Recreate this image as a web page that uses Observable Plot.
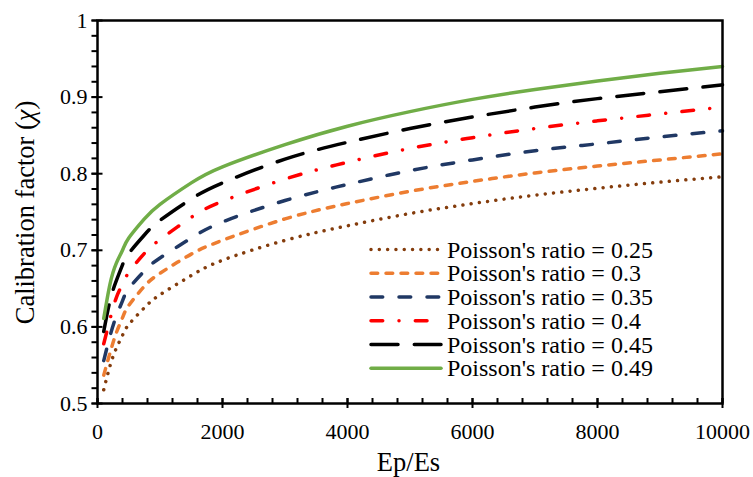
<!DOCTYPE html>
<html><head><meta charset="utf-8">
<script src="https://cdn.jsdelivr.net/npm/d3@7"></script>
<script src="https://cdn.jsdelivr.net/npm/@observablehq/plot@0.6"></script>
<style>body{margin:0;background:#fff}#chart{width:753px;height:477px}</style>
</head><body><div id="chart"></div>
<script>
const seriesNames = ["Poisson's ratio = 0.25","Poisson's ratio = 0.3","Poisson's ratio = 0.35","Poisson's ratio = 0.4","Poisson's ratio = 0.45","Poisson's ratio = 0.49"];
const seriesColors = ["#843C0C","#ED7D31","#203864","#FF0000","#000000","#70AD47"];
const seriesDashes = ["0.01 8.3","6.7 8.3","11.7 16.3","11.7 16.3 0.01 16.3","27 16.3","none"];
const epEs  = [100,200,300,400,500,750,1000,1500,2000,3000,4000,5000,6000,7000,8000,9000,10000];
const chi025 = [0.518,0.549,0.572,0.589,0.603,0.625,0.642,0.667,0.687,0.713,0.732,0.748,0.761,0.772,0.781,0.789,0.796];
const chi030 = [0.537,0.566,0.592,0.612,0.628,0.653,0.670,0.695,0.713,0.741,0.761,0.777,0.790,0.801,0.810,0.818,0.826];
const chi035 = [0.556,0.588,0.614,0.634,0.650,0.673,0.690,0.716,0.737,0.765,0.786,0.804,0.818,0.830,0.839,0.848,0.856];
const chi040 = [0.578,0.610,0.638,0.656,0.671,0.696,0.714,0.743,0.764,0.793,0.815,0.833,0.847,0.859,0.869,0.878,0.887];
const chi045 = [0.594,0.634,0.660,0.681,0.696,0.720,0.739,0.767,0.788,0.819,0.841,0.859,0.874,0.887,0.898,0.907,0.916];
const chi049 = [0.611,0.656,0.683,0.700,0.716,0.741,0.760,0.788,0.809,0.838,0.862,0.881,0.897,0.910,0.921,0.931,0.940];
const seriesValues = [chi025,chi030,chi035,chi040,chi045,chi049];
const xTicks = [0,2000,4000,6000,8000,10000];
const xTickLabels = ["0","2000","4000","6000","8000","10000"];
const yTicks = [0.5,0.6,0.7,0.8,0.9,1];
const yTickLabels = ["0.5","0.6","0.7","0.8","0.9","1"];
const xMinor = d3.range(0, 10001, 400);
const yMinor = d3.range(50, 101, 2).map(v => v / 100);

const FONT = "'Liberation Serif','Times New Roman',serif";

const lineMarks = seriesValues.map((vals, i) => Plot.line(
  epEs.map((x, j) => ({x, y: vals[j]})),
  {x: "x", y: "y", stroke: seriesColors[i], strokeWidth: 3.5,
   strokeDasharray: seriesDashes[i] === "none" ? undefined : seriesDashes[i],
   strokeLinecap: "round", curve: "natural"}
));

const plot = Plot.plot({
  width: 753, height: 477,
  marginLeft: 97, marginRight: 31, marginTop: 20, marginBottom: 74,
  style: {fontFamily: FONT, fontSize: "22px", color: "black", background: "white"},
  x: {domain: [0, 10000]},
  y: {domain: [0.5, 1]},
  marks: [
    ...lineMarks,
    Plot.frame({stroke: "black", strokeWidth: 2.5}),
    Plot.axisY(yMinor, {tickSize: 5.5, tickFormat: () => "", label: null, strokeWidth: 2}),
    Plot.axisY(yTicks, {tickSize: 11, dx: 5.5, tickFormat: () => "", label: null, strokeWidth: 2}),
    Plot.axisY(yTicks, {tickSize: 0, tickPadding: 10, tickFormat: d => yTickLabels[yTicks.indexOf(d)], label: null}),
    Plot.axisX(xMinor, {tickSize: 5, dy: -5, tickFormat: () => "", label: null, strokeWidth: 2}),
    Plot.axisX(xTicks, {tickSize: 10, dy: -5, tickFormat: () => "", label: null, strokeWidth: 2}),
    Plot.axisX(xTicks, {tickSize: 0, tickPadding: 20, tickFormat: d => xTickLabels[xTicks.indexOf(d)], label: null})
  ]
});
document.getElementById("chart").appendChild(plot);

const svg = d3.select(plot);
// axis titles
const yt = svg.append("text")
  .attr("transform", "translate(25,212.5) rotate(-90)")
  .attr("text-anchor", "middle").attr("dominant-baseline", "central")
  .attr("font-family", FONT).attr("font-size", 26.5).attr("fill", "black");
yt.append("tspan").text("Calibration factor (");
yt.append("tspan").attr("font-style", "italic").text("χ");
yt.append("tspan").text(")");
svg.append("text").attr("x", 408.5).attr("y", 471)
  .attr("text-anchor", "middle")
  .attr("font-family", FONT).attr("font-size", 26.5).attr("fill", "black")
  .text("Ep/Es");

// legend
const lg = svg.append("g");
seriesNames.forEach((name, i) => {
  const cy = 249.6 + i * 23.75;
  lg.append("line").attr("x1", 371).attr("x2", 441).attr("y1", cy).attr("y2", cy)
    .attr("stroke", seriesColors[i]).attr("stroke-width", 3.5)
    .attr("stroke-linecap", "round")
    .attr("stroke-dasharray", seriesDashes[i]);
  lg.append("text").attr("x", 447).attr("y", cy)
    .attr("text-anchor", "start")
    .attr("dominant-baseline", "central")
    .attr("font-family", FONT).attr("font-size", 24).attr("fill", "black")
    .text(name);
});
</script>
</body></html>
